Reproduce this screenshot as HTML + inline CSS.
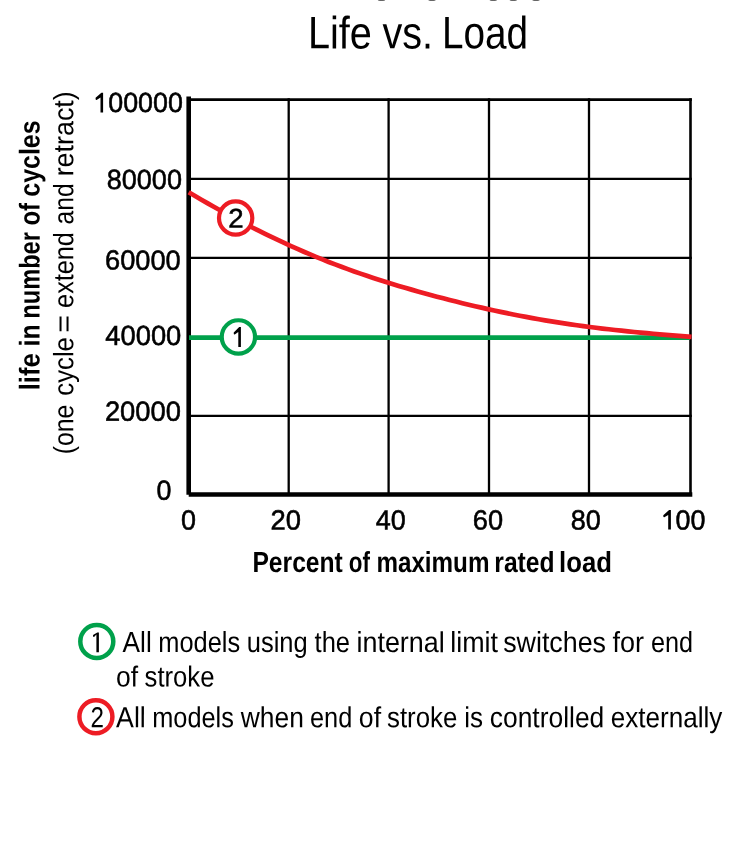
<!DOCTYPE html>
<html><head><meta charset="utf-8"><style>
html,body{margin:0;padding:0;background:#fff;width:750px;height:859px;overflow:hidden}
svg{position:absolute;left:0;top:0;font-family:"Liberation Sans", sans-serif;will-change:transform}
</style></head><body>
<svg width="750" height="859" viewBox="0 0 750 859">
<rect width="750" height="859" fill="#fff"/>
<line x1="288.7" y1="98.3" x2="288.7" y2="494.8" stroke="#000" stroke-width="2.3"/>
<line x1="388.6" y1="98.3" x2="388.6" y2="494.8" stroke="#000" stroke-width="2.3"/>
<line x1="489.0" y1="98.3" x2="489.0" y2="494.8" stroke="#000" stroke-width="2.3"/>
<line x1="589.0" y1="98.3" x2="589.0" y2="494.8" stroke="#000" stroke-width="2.3"/>
<line x1="690.5" y1="98.3" x2="690.5" y2="494.8" stroke="#000" stroke-width="2.6"/>
<line x1="188.7" y1="99.6" x2="691.8" y2="99.6" stroke="#000" stroke-width="2.7"/>
<line x1="188.7" y1="178.8" x2="691.8" y2="178.8" stroke="#000" stroke-width="2.3"/>
<line x1="188.7" y1="257.8" x2="691.8" y2="257.8" stroke="#000" stroke-width="2.3"/>
<line x1="188.7" y1="415.8" x2="691.8" y2="415.8" stroke="#000" stroke-width="2.3"/>
<line x1="188.7" y1="96.4" x2="188.7" y2="494.7" stroke="#000" stroke-width="4.6"/>
<line x1="188.7" y1="494.5" x2="692.3" y2="494.5" stroke="#000" stroke-width="4.3"/>
<line x1="189" y1="337.6" x2="690" y2="337.6" stroke="#00a14b" stroke-width="4.6"/>
<path d="M188.7,192.28 L195.1,195.98 L201.4,199.68 L207.8,203.35 L214.2,206.98 L220.5,210.55 L226.9,214.06 L233.3,217.51 L239.6,220.90 L246.0,224.24 L252.3,227.51 L258.7,230.72 L265.1,233.87 L271.4,236.96 L277.8,239.99 L284.2,242.96 L290.5,245.87 L296.9,248.71 L303.3,251.49 L309.6,254.20 L316.0,256.86 L322.4,259.44 L328.7,261.97 L335.1,264.43 L341.4,266.82 L347.8,269.16 L354.2,271.43 L360.5,273.65 L366.9,275.81 L373.3,277.93 L379.6,279.99 L386.0,282.00 L392.4,283.97 L398.7,285.90 L405.1,287.78 L411.5,289.63 L417.8,291.44 L424.2,293.21 L430.6,294.96 L436.9,296.66 L443.3,298.34 L449.6,299.98 L456.0,301.58 L462.4,303.16 L468.7,304.69 L475.1,306.19 L481.5,307.66 L487.8,309.09 L494.2,310.48 L500.6,311.84 L506.9,313.16 L513.3,314.45 L519.7,315.70 L526.0,316.91 L532.4,318.09 L538.8,319.22 L545.1,320.33 L551.5,321.39 L557.8,322.41 L564.2,323.40 L570.6,324.35 L576.9,325.26 L583.3,326.13 L589.7,326.97 L596.0,327.78 L602.4,328.55 L608.8,329.29 L615.1,330.01 L621.5,330.69 L627.9,331.35 L634.2,331.99 L640.6,332.61 L646.9,333.20 L653.3,333.78 L659.7,334.34 L666.0,334.88 L672.4,335.41 L678.8,335.93 L685.1,336.44 L691.5,336.93" fill="none" stroke="#ed1c24" stroke-width="4.7"/>
<circle cx="235.65" cy="218.05" r="16.65" fill="#fff" stroke="#ed1c24" stroke-width="4.2"/>
<circle cx="238.4" cy="336.9" r="16.65" fill="#fff" stroke="#00a14b" stroke-width="4.2"/>
<circle cx="96.8" cy="641.45" r="16.5" fill="#fff" stroke="#00a14b" stroke-width="4.5"/>
<circle cx="95.9" cy="716.65" r="16.5" fill="#fff" stroke="#ed1c24" stroke-width="4.5"/>
<ellipse cx="381.5" cy="0" rx="3.6" ry="1.1" fill="#666"/>
<ellipse cx="432" cy="0" rx="3.6" ry="1.1" fill="#666"/>
<ellipse cx="493.3" cy="0" rx="3.6" ry="1.1" fill="#666"/>
<ellipse cx="513.3" cy="0" rx="3.6" ry="1.1" fill="#666"/>
<ellipse cx="536" cy="0" rx="3.6" ry="1.1" fill="#666"/>
<path d="M103.1,92.7 L103.1,112.4 L100.50,112.4 L100.50,97.39 L96.60,99.90 Q95.60,100.00 95.60,98.90 L95.60,97.70 L101.40,92.7 Z" fill="#000"/>
<path d="M670.9,510.1 L670.9,529.6 L668.20,529.6 L668.20,515.00 L664.30,517.30 Q663.30,517.40 663.30,516.30 L663.30,515.30 L669.10,510.1 Z" fill="#000"/>
<path d="M240.9,327.1 L240.9,347.0 L238.30,347.0 L238.30,332.10 L234.75,334.60 Q233.75,334.70 233.75,333.60 L233.75,332.40 L239.20,327.1 Z" fill="#000"/>
<path d="M98.9,632.5 L98.9,652.2 L96.40,652.2 L96.40,634.54 L94.05,637.10 Q93.05,637.20 93.05,636.10 L93.05,634.90 L97.30,632.5 Z" fill="#000"/>
<text transform="rotate(0.05 145.52 112.05)" x="108.23" y="112.05" font-size="27.75" font-weight="normal" stroke="#000" stroke-width="0.55" textLength="74.58" lengthAdjust="spacingAndGlyphs">00000</text>
<text transform="rotate(0.05 144.36 189.05)" x="106.76" y="189.05" font-size="27.75" font-weight="normal" stroke="#000" stroke-width="0.55" textLength="75.19" lengthAdjust="spacingAndGlyphs">80000</text>
<text transform="rotate(0.05 142.89 269.65)" x="105.05" y="269.65" font-size="27.75" font-weight="normal" stroke="#000" stroke-width="0.55" textLength="75.68" lengthAdjust="spacingAndGlyphs">60000</text>
<text transform="rotate(0.05 143.35 345.05)" x="105.37" y="345.05" font-size="27.75" font-weight="normal" stroke="#000" stroke-width="0.55" textLength="75.96" lengthAdjust="spacingAndGlyphs">40000</text>
<text transform="rotate(0.05 142.87 420.85)" x="104.88" y="420.85" font-size="27.75" font-weight="normal" stroke="#000" stroke-width="0.55" textLength="75.97" lengthAdjust="spacingAndGlyphs">20000</text>
<text transform="rotate(0.05 164.03 499.85)" x="156.57" y="499.85" font-size="27.75" font-weight="normal" stroke="#000" stroke-width="0.55" textLength="14.91" lengthAdjust="spacingAndGlyphs">0</text>
<text transform="rotate(0.05 188.45 529.55)" x="180.96" y="529.55" font-size="27.75" font-weight="normal" stroke="#000" stroke-width="0.55" textLength="14.97" lengthAdjust="spacingAndGlyphs">0</text>
<text transform="rotate(0.05 285.77 529.55)" x="270.55" y="529.55" font-size="27.75" font-weight="normal" stroke="#000" stroke-width="0.55" textLength="30.44" lengthAdjust="spacingAndGlyphs">20</text>
<text transform="rotate(0.05 390.72 529.55)" x="375.72" y="529.55" font-size="27.75" font-weight="normal" stroke="#000" stroke-width="0.55" textLength="30.00" lengthAdjust="spacingAndGlyphs">40</text>
<text transform="rotate(0.05 488.00 529.55)" x="472.86" y="529.55" font-size="27.75" font-weight="normal" stroke="#000" stroke-width="0.55" textLength="30.27" lengthAdjust="spacingAndGlyphs">60</text>
<text transform="rotate(0.05 585.68 529.55)" x="570.65" y="529.55" font-size="27.75" font-weight="normal" stroke="#000" stroke-width="0.55" textLength="30.06" lengthAdjust="spacingAndGlyphs">80</text>
<text transform="rotate(0.05 690.45 529.55)" x="675.49" y="529.55" font-size="27.75" font-weight="normal" stroke="#000" stroke-width="0.55" textLength="29.92" lengthAdjust="spacingAndGlyphs">00</text>
<text transform="rotate(0.05 236.03 227.62)" x="228.37" y="227.62" font-size="26.90" font-weight="normal" stroke="#000" stroke-width="0.55" textLength="15.33" lengthAdjust="spacingAndGlyphs">2</text>
<text transform="rotate(0.05 97.27 727.30)" x="90.53" y="727.30" font-size="28.90" font-weight="normal" textLength="13.47" lengthAdjust="spacingAndGlyphs">2</text>
<text transform="rotate(0.05 339.89 48.40)" x="307.95" y="48.40" font-size="45.60" font-weight="normal" textLength="63.88" lengthAdjust="spacingAndGlyphs">Life</text>
<text transform="rotate(0.05 407.73 48.40)" x="382.42" y="48.40" font-size="45.60" font-weight="normal" textLength="50.61" lengthAdjust="spacingAndGlyphs">vs.</text>
<text transform="rotate(0.05 485.05 48.40)" x="442.02" y="48.40" font-size="45.60" font-weight="normal" textLength="86.06" lengthAdjust="spacingAndGlyphs">Load</text>
<text transform="rotate(0.05 297.60 572.00)" x="252.44" y="572.00" font-size="29.00" font-weight="bold" textLength="90.31" lengthAdjust="spacingAndGlyphs">Percent</text>
<text transform="rotate(0.05 359.30 572.00)" x="348.74" y="572.00" font-size="29.00" font-weight="bold" textLength="21.11" lengthAdjust="spacingAndGlyphs">of</text>
<text transform="rotate(0.05 432.94 572.00)" x="376.42" y="572.00" font-size="29.00" font-weight="bold" textLength="113.03" lengthAdjust="spacingAndGlyphs">maximum</text>
<text transform="rotate(0.05 524.45 572.00)" x="494.33" y="572.00" font-size="29.00" font-weight="bold" textLength="60.25" lengthAdjust="spacingAndGlyphs">rated</text>
<text transform="rotate(0.05 585.51 572.00)" x="559.08" y="572.00" font-size="29.00" font-weight="bold" textLength="52.87" lengthAdjust="spacingAndGlyphs">load</text>
<text transform="rotate(0.05 137.18 652.10)" x="122.59" y="652.10" font-size="29.00" font-weight="normal" textLength="29.17" lengthAdjust="spacingAndGlyphs">All</text>
<text transform="rotate(0.05 199.18 652.10)" x="158.27" y="652.10" font-size="29.00" font-weight="normal" textLength="81.81" lengthAdjust="spacingAndGlyphs">models</text>
<text transform="rotate(0.05 277.25 652.10)" x="246.79" y="652.10" font-size="29.00" font-weight="normal" textLength="60.92" lengthAdjust="spacingAndGlyphs">using</text>
<text transform="rotate(0.05 332.33 652.10)" x="314.62" y="652.10" font-size="29.00" font-weight="normal" textLength="35.43" lengthAdjust="spacingAndGlyphs">the</text>
<text transform="rotate(0.05 400.62 652.10)" x="356.48" y="652.10" font-size="29.00" font-weight="normal" textLength="88.28" lengthAdjust="spacingAndGlyphs">internal</text>
<text transform="rotate(0.05 474.09 652.10)" x="450.24" y="652.10" font-size="29.00" font-weight="normal" textLength="47.70" lengthAdjust="spacingAndGlyphs">limit</text>
<text transform="rotate(0.05 554.59 652.10)" x="503.17" y="652.10" font-size="29.00" font-weight="normal" textLength="102.84" lengthAdjust="spacingAndGlyphs">switches</text>
<text transform="rotate(0.05 628.15 652.10)" x="612.42" y="652.10" font-size="29.00" font-weight="normal" textLength="31.46" lengthAdjust="spacingAndGlyphs">for</text>
<text transform="rotate(0.05 672.04 652.10)" x="651.00" y="652.10" font-size="29.00" font-weight="normal" textLength="42.09" lengthAdjust="spacingAndGlyphs">end</text>
<text transform="rotate(0.05 127.05 686.50)" x="116.02" y="686.50" font-size="29.00" font-weight="normal" textLength="22.05" lengthAdjust="spacingAndGlyphs">of</text>
<text transform="rotate(0.05 179.50 686.50)" x="144.60" y="686.50" font-size="29.00" font-weight="normal" textLength="69.80" lengthAdjust="spacingAndGlyphs">stroke</text>
<text transform="rotate(0.05 130.94 727.30)" x="116.09" y="727.30" font-size="29.00" font-weight="normal" textLength="29.71" lengthAdjust="spacingAndGlyphs">All</text>
<text transform="rotate(0.05 193.09 727.30)" x="152.28" y="727.30" font-size="29.00" font-weight="normal" textLength="81.61" lengthAdjust="spacingAndGlyphs">models</text>
<text transform="rotate(0.05 272.33 727.30)" x="240.82" y="727.30" font-size="29.00" font-weight="normal" textLength="63.02" lengthAdjust="spacingAndGlyphs">when</text>
<text transform="rotate(0.05 331.13 727.30)" x="309.99" y="727.30" font-size="29.00" font-weight="normal" textLength="42.28" lengthAdjust="spacingAndGlyphs">end</text>
<text transform="rotate(0.05 369.96 727.30)" x="358.85" y="727.30" font-size="29.00" font-weight="normal" textLength="22.22" lengthAdjust="spacingAndGlyphs">of</text>
<text transform="rotate(0.05 422.19 727.30)" x="387.06" y="727.30" font-size="29.00" font-weight="normal" textLength="70.27" lengthAdjust="spacingAndGlyphs">stroke</text>
<text transform="rotate(0.05 473.65 727.30)" x="464.25" y="727.30" font-size="29.00" font-weight="normal" textLength="18.80" lengthAdjust="spacingAndGlyphs">is</text>
<text transform="rotate(0.05 547.05 727.30)" x="489.82" y="727.30" font-size="29.00" font-weight="normal" textLength="114.46" lengthAdjust="spacingAndGlyphs">controlled</text>
<text transform="rotate(0.05 666.59 727.30)" x="610.82" y="727.30" font-size="29.00" font-weight="normal" textLength="111.53" lengthAdjust="spacingAndGlyphs">externally</text>
<text transform="translate(39.60,390.34) rotate(-90) rotate(0.05 18.55 0)" x="0" y="0" font-size="28.60" font-weight="bold" textLength="37.09" lengthAdjust="spacingAndGlyphs">life</text>
<text transform="translate(39.60,346.44) rotate(-90) rotate(0.05 11.01 0)" x="0" y="0" font-size="28.60" font-weight="bold" textLength="22.02" lengthAdjust="spacingAndGlyphs">in</text>
<text transform="translate(39.60,318.65) rotate(-90) rotate(0.05 43.30 0)" x="0" y="0" font-size="28.60" font-weight="bold" textLength="86.60" lengthAdjust="spacingAndGlyphs">number</text>
<text transform="translate(39.60,225.52) rotate(-90) rotate(0.05 11.29 0)" x="0" y="0" font-size="28.60" font-weight="bold" textLength="22.57" lengthAdjust="spacingAndGlyphs">of</text>
<text transform="translate(39.60,196.66) rotate(-90) rotate(0.05 38.08 0)" x="0" y="0" font-size="28.60" font-weight="bold" textLength="76.16" lengthAdjust="spacingAndGlyphs">cycles</text>
<text transform="translate(73.30,454.18) rotate(-90) rotate(0.05 24.73 0)" x="0" y="0" font-size="28.00" font-weight="normal" textLength="49.45" lengthAdjust="spacingAndGlyphs">(one</text>
<text transform="translate(73.30,395.63) rotate(-90) rotate(0.05 29.25 0)" x="0" y="0" font-size="28.00" font-weight="normal" textLength="58.49" lengthAdjust="spacingAndGlyphs">cycle</text>
<text transform="translate(73.30,332.66) rotate(-90) rotate(0.05 8.89 0)" x="0" y="0" font-size="28.00" font-weight="normal" textLength="17.79" lengthAdjust="spacingAndGlyphs">=</text>
<text transform="translate(73.30,307.92) rotate(-90) rotate(0.05 37.92 0)" x="0" y="0" font-size="28.00" font-weight="normal" textLength="75.85" lengthAdjust="spacingAndGlyphs">extend</text>
<text transform="translate(73.30,224.44) rotate(-90) rotate(0.05 20.59 0)" x="0" y="0" font-size="28.00" font-weight="normal" textLength="41.17" lengthAdjust="spacingAndGlyphs">and</text>
<text transform="translate(73.30,176.34) rotate(-90) rotate(0.05 42.55 0)" x="0" y="0" font-size="28.00" font-weight="normal" textLength="85.11" lengthAdjust="spacingAndGlyphs">retract)</text>
</svg>
</body></html>
